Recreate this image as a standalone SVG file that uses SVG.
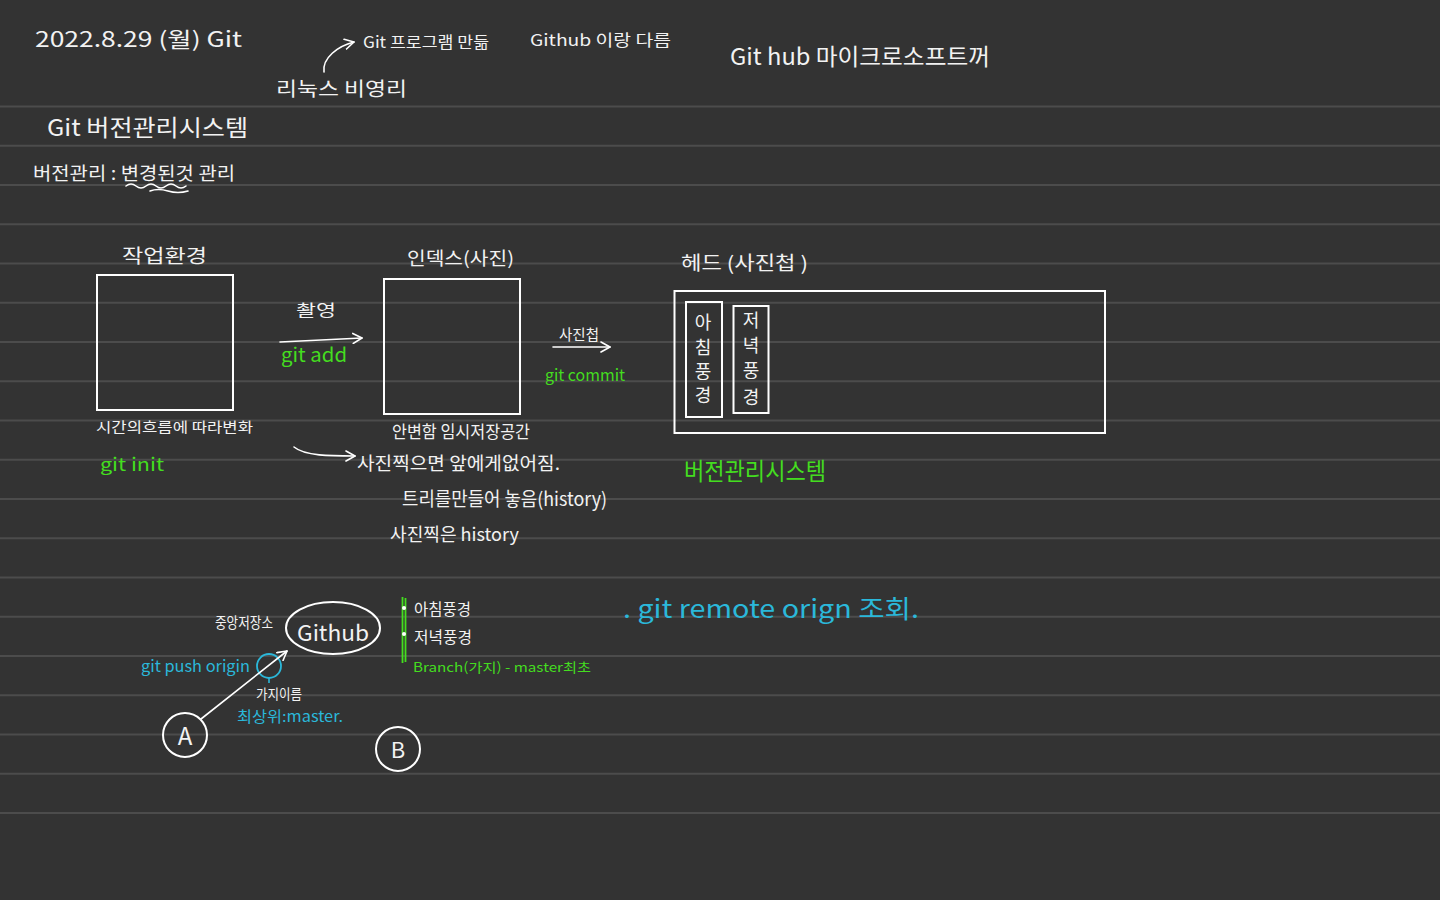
<svg xmlns="http://www.w3.org/2000/svg" width="1440" height="900" viewBox="0 0 1440 900">
<defs>
<marker id="arr" viewBox="0 0 12 12" refX="10" refY="6" markerWidth="12" markerHeight="12" markerUnits="userSpaceOnUse" orient="auto">
<path d="M1,1 L10,6 L1,11" fill="none" stroke="#ffffff" stroke-width="1.6" stroke-linecap="round" stroke-linejoin="round"/>
</marker>
<style>
.bg{fill:#333333}
.rule{stroke:#4c4c4c;stroke-width:2}
.t{font-family:"Noto Sans CJK KR","Noto Sans",sans-serif;fill:#f2f2f2}
.g{font-family:"Noto Sans CJK KR","Noto Sans",sans-serif;fill:#44dd1f}
.b{font-family:"Noto Sans CJK KR","Noto Sans",sans-serif;fill:#2bb8da}
.box{fill:none;stroke:#ffffff;stroke-width:2}
.ln{fill:none;stroke:#ffffff;stroke-width:1.6;stroke-linecap:round}
</style>
</defs>
<rect class="bg" x="0" y="0" width="1440" height="900"/>
<g id="rules">
<line class="rule" x1="0" y1="106.5" x2="1440" y2="106.5"/>
<line class="rule" x1="0" y1="145.8" x2="1440" y2="145.8"/>
<line class="rule" x1="0" y1="185" x2="1440" y2="185"/>
<line class="rule" x1="0" y1="224.3" x2="1440" y2="224.3"/>
<line class="rule" x1="0" y1="263.5" x2="1440" y2="263.5"/>
<line class="rule" x1="0" y1="302.8" x2="1440" y2="302.8"/>
<line class="rule" x1="0" y1="342" x2="1440" y2="342"/>
<line class="rule" x1="0" y1="381.3" x2="1440" y2="381.3"/>
<line class="rule" x1="0" y1="420.5" x2="1440" y2="420.5"/>
<line class="rule" x1="0" y1="459.8" x2="1440" y2="459.8"/>
<line class="rule" x1="0" y1="499" x2="1440" y2="499"/>
<line class="rule" x1="0" y1="538.3" x2="1440" y2="538.3"/>
<line class="rule" x1="0" y1="577.5" x2="1440" y2="577.5"/>
<line class="rule" x1="0" y1="616.8" x2="1440" y2="616.8"/>
<line class="rule" x1="0" y1="656" x2="1440" y2="656"/>
<line class="rule" x1="0" y1="695.3" x2="1440" y2="695.3"/>
<line class="rule" x1="0" y1="734.5" x2="1440" y2="734.5"/>
<line class="rule" x1="0" y1="773.8" x2="1440" y2="773.8"/>
<line class="rule" x1="0" y1="813" x2="1440" y2="813"/>
</g>

<g id="header">
<text class="t" x="35" y="47" font-size="21" textLength="207" lengthAdjust="spacingAndGlyphs">2022.8.29 (월) Git</text>
<text class="t" x="363" y="48" font-size="16" textLength="126" lengthAdjust="spacingAndGlyphs">Git 프로그램 만듦</text>
<text class="t" x="276" y="96" font-size="19" textLength="131" lengthAdjust="spacingAndGlyphs">리눅스 비영리</text>
<text class="t" x="530" y="46" font-size="16" textLength="141" lengthAdjust="spacingAndGlyphs">Github 이랑 다름</text>
<text class="t" x="730" y="65" font-size="23" textLength="260" lengthAdjust="spacingAndGlyphs">Git hub 마이크로소프트꺼</text>
</g>

<g id="title">
<text class="t" x="47" y="136" font-size="23" textLength="201" lengthAdjust="spacingAndGlyphs">Git 버전관리시스템</text>
<text class="t" x="33" y="180" font-size="18" textLength="202" lengthAdjust="spacingAndGlyphs">버전관리 : 변경된것 관리</text>
<path class="ln" d="M126,186 q5,-4 10,0 t10,0 t10,0 t10,0 t10,0 t10,0 M150,191 q8,-3 18,0 t20,0" stroke-width="1.3"/>
</g>

<g id="working">
<text class="t" x="122" y="263" font-size="19" textLength="85" lengthAdjust="spacingAndGlyphs">작업환경</text>
<rect class="box" x="97" y="275" width="136" height="135"/>
<text class="t" x="96" y="432" font-size="14" textLength="157" lengthAdjust="spacingAndGlyphs">시간의흐름에 따라변화</text>
<text class="g" x="100" y="471" font-size="18" textLength="64" lengthAdjust="spacingAndGlyphs">git init</text>
</g>

<g id="index">
<text class="t" x="407" y="265" font-size="18" textLength="107" lengthAdjust="spacingAndGlyphs">인덱스(사진)</text>
<rect class="box" x="384" y="279" width="136" height="135"/>
<text class="t" x="392" y="438" font-size="17" textLength="138" lengthAdjust="spacingAndGlyphs">안변함 임시저장공간</text>
<text class="t" x="357" y="470" font-size="18" textLength="203" lengthAdjust="spacingAndGlyphs">사진찍으면 앞에게없어짐.</text>
<text class="t" x="402" y="506" font-size="19" textLength="205" lengthAdjust="spacingAndGlyphs">트리를만들어 놓음(history)</text>
<text class="t" x="390" y="541" font-size="18" textLength="129" lengthAdjust="spacingAndGlyphs">사진찍은 history</text>
</g>

<g id="head">
<text class="t" x="681" y="270" font-size="19" textLength="127" lengthAdjust="spacingAndGlyphs">헤드 (사진첩 )</text>
<rect class="box" x="674.5" y="291" width="430.5" height="142"/>
<rect class="box" x="686" y="302" width="36" height="115"/>
<rect class="box" x="733.5" y="306" width="35" height="107"/>
<g class="t" font-size="18" text-anchor="middle">
<text x="703" y="329">아</text>
<text x="703" y="354">침</text>
<text x="703" y="378">풍</text>
<text x="703" y="402">경</text>
<text x="751" y="327">저</text>
<text x="751" y="352">녁</text>
<text x="751" y="377">풍</text>
<text x="751" y="404">경</text>
</g>
<text class="g" x="684" y="480" font-size="24" textLength="142" lengthAdjust="spacingAndGlyphs">버전관리시스템</text>
</g>

<g id="labels-arrows">
<text class="t" x="296" y="316" font-size="16" textLength="40" lengthAdjust="spacingAndGlyphs">촬영</text>
<text class="g" x="281" y="362" font-size="19" textLength="66" lengthAdjust="spacingAndGlyphs">git add</text>
<text class="t" x="559" y="340" font-size="15" textLength="40" lengthAdjust="spacingAndGlyphs">사진첩</text>
<text class="g" x="545" y="381" font-size="16" textLength="80" lengthAdjust="spacingAndGlyphs">git commit</text>
</g>

<g id="remote">
<text class="t" x="215" y="628" font-size="15" textLength="58" lengthAdjust="spacingAndGlyphs">중앙저장소</text>
<ellipse class="box" cx="333" cy="628" rx="47" ry="26"/>
<text class="t" x="297" y="641" font-size="22" textLength="72" lengthAdjust="spacingAndGlyphs">Github</text>
<text class="b" x="141" y="672" font-size="16" textLength="109" lengthAdjust="spacingAndGlyphs">git push origin</text>
<circle cx="269" cy="666" r="12" fill="none" stroke="#2bb8da" stroke-width="1.8"/>
<line x1="269" y1="678" x2="269" y2="683" stroke="#2bb8da" stroke-width="1.6"/>
<text class="t" x="256" y="699" font-size="14" textLength="46" lengthAdjust="spacingAndGlyphs">가지이름</text>
<text class="b" x="237" y="722" font-size="15" textLength="106" lengthAdjust="spacingAndGlyphs">최상위:master.</text>
</g>

<g id="nodeA">
<circle class="box" cx="185" cy="735" r="22"/>
<text class="t" x="185" y="745" font-size="24" text-anchor="middle">A</text>
</g>
<g id="nodeB">
<circle class="box" cx="398" cy="749" r="22"/>
<text class="t" x="398" y="758" font-size="22" text-anchor="middle">B</text>
</g>

<g id="branch">
<line x1="402.5" y1="597" x2="402.5" y2="663" stroke="#44dd1f" stroke-width="1.8"/>
<line x1="405.5" y1="598" x2="405.5" y2="662" stroke="#44dd1f" stroke-width="1.8"/>
<circle cx="404" cy="608" r="2" fill="#ffffff"/>
<circle cx="404" cy="634" r="2" fill="#ffffff"/>
<text class="t" x="414" y="615" font-size="16" textLength="57" lengthAdjust="spacingAndGlyphs">아침풍경</text>
<text class="t" x="414" y="643" font-size="16" textLength="58" lengthAdjust="spacingAndGlyphs">저녁풍경</text>
<text class="g" x="413" y="672" font-size="13" textLength="178" lengthAdjust="spacingAndGlyphs">Branch(가지) - master최초</text>
</g>

<g id="remote-note">
<text class="b" x="623" y="618" font-size="25" textLength="296" lengthAdjust="spacingAndGlyphs">. git remote orign 조회.</text>
</g>

<g id="connectors">
<path class="ln" d="M324,72 C322,58 338,46 354,42" marker-end="url(#arr)"/>
<path class="ln" d="M280,342 L362,338" marker-end="url(#arr)"/>
<path class="ln" d="M553,347 L610,347" marker-end="url(#arr)"/>
<path class="ln" d="M294,447 C305,456 330,456 355,456" marker-end="url(#arr)"/>
<path class="ln" d="M201,719 L287,651" marker-end="url(#arr)"/>
</g>
</svg>
